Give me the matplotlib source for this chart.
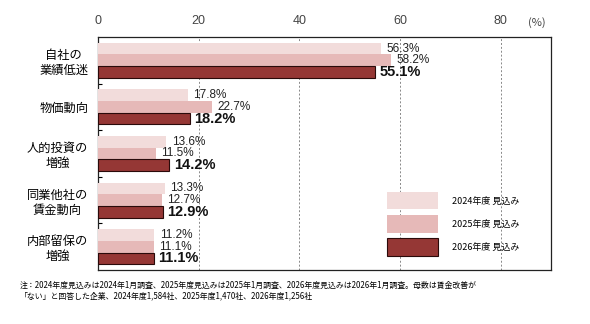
import matplotlib
matplotlib.use("Agg")
import matplotlib.pyplot as plt
import numpy as np

plt.rcParams['font.family'] = ['Noto Sans CJK JP', 'DejaVu Sans']

categories = ["自社の\n業績低迷", "物価動向", "人的投資の\n増強", "同業他社の\n賃金動向", "内部留保の\n増強"]
series_names = ["2024年度 見込み", "2025年度 見込み", "2026年度 見込み"]
v2024 = [56.3, 17.8, 13.6, 13.3, 11.2]
v2025 = [58.2, 22.7, 11.5, 12.7, 11.1]
v2026 = [55.1, 18.2, 14.2, 12.9, 11.1]
xticks = [0, 20, 40, 60, 80]
note_lines = ["注：2024年度見込みは2024年1月調査、2025年度見込みは2025年1月調査、2026年度見込みは2026年1月調査。母数は賃金改善が",
              "「ない」と回答した企業、2024年度1,584社、2025年度1,470社、2026年度1,256社"]

colors = ["#F2DCDB", "#E6B9B8", "#953735"]
num_font = ['Liberation Sans', 'DejaVu Sans']

fig = plt.figure(figsize=(5.9, 3.24), dpi=100)
ax = fig.add_axes([98/590, 1-270/324, (551-98)/590, (270-37)/324])

y = np.arange(len(categories))
h = 0.25
b1 = ax.barh(y - h, v2024, height=h, color=colors[0], label=series_names[0], zorder=3)
b2 = ax.barh(y, v2025, height=h, color=colors[1], label=series_names[1], zorder=3)
b3 = ax.barh(y + h, v2026, height=h, color=colors[2], edgecolor="#2a0a0a", linewidth=0.8,
             label=series_names[2], zorder=3)

ax.bar_label(b1, labels=[f"{v:.1f}%" for v in v2024], padding=4, fontsize=8.5,
             color="#222222", family=num_font)
ax.bar_label(b2, labels=[f"{v:.1f}%" for v in v2025], padding=4, fontsize=8.5,
             color="#222222", family=num_font)
ax.bar_label(b3, labels=[f"{v:.1f}%" for v in v2026], padding=3, fontsize=10.5,
             fontweight="bold", color="#111111", family=num_font)

ax.set_xlim(0, 90)
ax.set_ylim(len(categories) - 0.5, -0.5)
ax.set_xticks(xticks)
ax.set_xticklabels([str(t) for t in xticks], family=num_font)
ax.xaxis.tick_top()
ax.tick_params(axis='x', length=0, pad=7, labelsize=9, labelcolor="#444444")
ax.grid(axis='x', linestyle=(0, (2, 2)), color="#888888", linewidth=0.7, zorder=0)

ax.set_yticks(y)
ax.set_yticklabels(categories)
ax.tick_params(axis='y', which='major', length=0, pad=7, labelsize=8.8)
for lab in ax.get_yticklabels():
    lab.set_multialignment('center')
ax.set_yticks(np.arange(len(categories) - 1) + 0.5, minor=True)
ax.tick_params(axis='y', which='minor', direction='in', length=3, width=0.8)

for s in ax.spines.values():
    s.set_linewidth(0.9)
    s.set_color("#222222")

ax.text(537/590, 1 - 23/324, "(%)", transform=fig.transFigure, ha='center', va='center',
        fontsize=8, color="#444444")

leg = ax.legend(loc='upper left', bbox_to_anchor=(387/590, 1 - 192/324),
                bbox_transform=fig.transFigure, frameon=False, fontsize=6.5,
                handlelength=5.7, handleheight=2.58, labelspacing=0.65,
                handletextpad=1.5, borderpad=0, borderaxespad=0)

fig.text(20/590, 1 - 285/324, note_lines[0], fontsize=5.7, va='center', ha='left')
fig.text(20/590, 1 - 296/324, note_lines[1], fontsize=5.7, va='center', ha='left')

fig.savefig("out.png", dpi=100)
